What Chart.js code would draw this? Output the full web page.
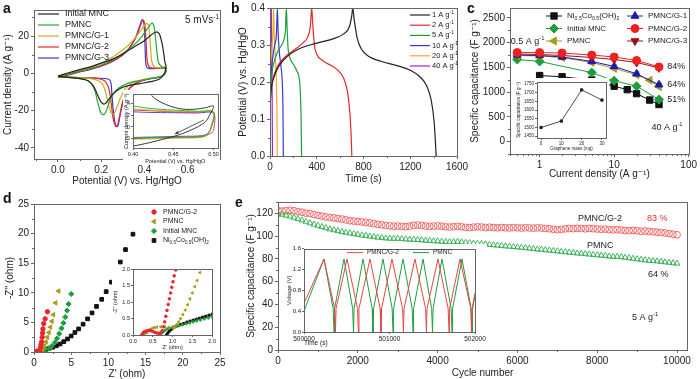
<!DOCTYPE html>
<html><head><meta charset="utf-8">
<script src="https://cdn.jsdelivr.net/npm/chart.js@4.4.1/dist/chart.umd.min.js"></script>
<style>
html,body{margin:0;padding:0;background:#fff;overflow:hidden}
#fig{position:relative;width:700px;height:379px}
#fig canvas{position:absolute}
.lbl{position:absolute;z-index:5;font:bold 14px 'Liberation Sans',Arial,sans-serif;line-height:14px;color:#111}
</style></head><body>
<div id="fig">
<div class="lbl" style="left:3px;top:1px">a</div>
<div class="lbl" style="left:231px;top:1px">b</div>
<div class="lbl" style="left:467px;top:1px">c</div>
<div class="lbl" style="left:3px;top:191px">d</div>
<div class="lbl" style="left:235px;top:195px">e</div>
</div>
<script>
// ---------- data: (a) CV loops, [potential V, current A/g] ----------
const aNames = ['Initial MNC', 'PMNC', 'PMNC/G-1', 'PMNC/G-2', 'PMNC/G-3'];
const aTicksX = [0, 0.2, 0.4, 0.6];
const aTicksY = [-40, -20, 0, 20];
const cvInitial = [[0,-1.5],[0.05,0.3],[0.1,2],[0.15,3.5],[0.2,5.5],[0.25,7.5],[0.3,10.5],[0.35,14],[0.4,17.5],[0.43,20.5],[0.455,22.2],[0.47,21],[0.485,14],[0.495,6],[0.5,3.5],[0.49,-0.5],[0.47,-3],[0.43,-4.5],[0.38,-5.5],[0.33,-6.5],[0.29,-8],[0.26,-10.5],[0.235,-14],[0.215,-16.5],[0.2,-15.5],[0.185,-12],[0.165,-7],[0.14,-4],[0.1,-2.8],[0.05,-2.2],[0,-1.5]];
const cvPMNC = [[0,-1.8],[0.05,-0.2],[0.1,1.2],[0.15,2.6],[0.2,4.5],[0.25,7],[0.3,10.5],[0.35,15],[0.39,20],[0.42,25],[0.435,27],[0.445,25],[0.455,15],[0.465,6],[0.48,3.5],[0.5,3],[0.49,-0.8],[0.46,-2.2],[0.42,-3],[0.37,-4],[0.32,-5.5],[0.28,-8],[0.25,-12],[0.23,-18],[0.215,-22],[0.2,-21.5],[0.185,-16],[0.17,-9],[0.15,-5],[0.12,-3.2],[0.06,-2.2],[0,-1.8]];
const cvG1 = [[0,-1.8],[0.05,-0.3],[0.1,1.5],[0.15,3.2],[0.2,5.5],[0.25,8.5],[0.3,12.5],[0.35,18],[0.39,24],[0.41,26.8],[0.42,25],[0.428,15],[0.435,6],[0.45,3.3],[0.5,2.8],[0.49,-0.8],[0.46,-2],[0.42,-2.8],[0.38,-3.8],[0.34,-5.5],[0.31,-8.5],[0.29,-13],[0.27,-19],[0.258,-21.8],[0.245,-21],[0.23,-15],[0.215,-8],[0.195,-4.5],[0.15,-2.8],[0.07,-2.2],[0,-1.8]];
const cvG2 = [[0,-2],[0.05,-0.6],[0.1,0.9],[0.15,2.3],[0.2,4],[0.25,6.5],[0.3,10],[0.33,13.5],[0.36,19],[0.38,25],[0.393,28.6],[0.402,26],[0.408,16],[0.414,6],[0.425,3.2],[0.46,2.8],[0.5,2.6],[0.49,-1],[0.46,-2.2],[0.42,-3],[0.38,-4.2],[0.35,-6],[0.32,-9.5],[0.3,-15],[0.285,-23],[0.275,-27.8],[0.265,-28],[0.255,-24],[0.245,-15],[0.235,-8],[0.215,-4],[0.17,-2.6],[0.08,-2.2],[0,-2]];
const cvG3 = [[0,-2.2],[0.05,-0.8],[0.1,0.7],[0.15,2.1],[0.2,3.8],[0.25,6.2],[0.3,9.8],[0.33,13.5],[0.36,19.5],[0.38,26],[0.39,28.9],[0.398,26.5],[0.403,15],[0.407,5],[0.415,2.8],[0.46,2.6],[0.5,2.5],[0.49,-1],[0.46,-2.3],[0.42,-3.1],[0.38,-4.3],[0.35,-6.2],[0.32,-10],[0.3,-16],[0.285,-24],[0.277,-28.3],[0.268,-28.5],[0.258,-22],[0.25,-12],[0.245,-5],[0.235,-3.2],[0.18,-2.6],[0.08,-2.3],[0,-2.2]];
// inset of (a): 0.40-0.50 V
const iaTicksX = [0.40, 0.45, 0.50];
const iaTicksY = [-2, 0, 2, 4];
const iaInitial = [[0.423,5.4],[0.43,4.6],[0.44,3.9],[0.45,3.4],[0.46,3.1],[0.47,3.0],[0.48,3.1],[0.49,3.3],[0.5,3.6],[0.495,2],[0.49,0.9],[0.48,0],[0.46,-1.2],[0.44,-2.0],[0.42,-2.7],[0.4,-3.3]];
const iaPMNC = [[0.4,3.6],[0.42,3.2],[0.45,2.9],[0.48,2.7],[0.5,2.6],[0.498,0.5],[0.493,-1.1],[0.485,-1.6],[0.46,-1.7],[0.43,-1.8],[0.4,-1.9]];
const iaG1 = [[0.4,3.1],[0.42,2.9],[0.45,2.7],[0.48,2.6],[0.5,2.5],[0.498,0.3],[0.493,-1.3],[0.485,-1.8],[0.46,-1.9],[0.43,-2],[0.4,-2.1]];
const iaG2 = [[0.4,2.9],[0.42,2.8],[0.45,2.6],[0.48,2.5],[0.5,2.5],[0.5,-0.6],[0.495,-1.2],[0.485,-1.7],[0.46,-1.8],[0.43,-1.9],[0.4,-2]];
const iaG3 = [[0.4,2.6],[0.42,2.5],[0.45,2.45],[0.48,2.4],[0.5,2.4],[0.498,0.2],[0.493,-1.1],[0.485,-1.5],[0.46,-1.6],[0.43,-1.7],[0.4,-1.8]];

// ---------- (b) charge-discharge, [time s, potential V] ----------
const bNames = ['1 A g^{-1}', '2 A g^{-1}', '5 A g^{-1}', '10 A g^{-1}', '20 A g^{-1}', '40 A g^{-1}'];
const bTicksX = [0, 400, 800, 1200, 1600];
const bTicksY = [0, 0.1, 0.2, 0.3, 0.4];
const gcd1 = [[0,0.13],[10,0.18],[30,0.21],[80,0.245],[150,0.27],[250,0.29],[400,0.305],[550,0.318],[630,0.33],[680,0.35],[700,0.38],[708,0.4],[720,0.37],[745,0.32],[780,0.29],[850,0.268],[950,0.256],[1100,0.243],[1200,0.232],[1280,0.215],[1340,0.19],[1380,0.15],[1405,0.09],[1415,0.04],[1422,0]];
const gcd2 = [[0,0.15],[20,0.2],[60,0.24],[120,0.265],[200,0.285],[280,0.305],[320,0.32],[345,0.35],[357,0.4],[365,0.36],[380,0.3],[400,0.275],[450,0.258],[520,0.245],[580,0.232],[630,0.21],[665,0.17],[685,0.11],[695,0.05],[700,0]];
const gcd5 = [[0,0.16],[15,0.22],[40,0.26],[70,0.285],[100,0.3],[120,0.315],[132,0.34],[140,0.4],[146,0.35],[155,0.29],[170,0.265],[200,0.248],[230,0.23],[250,0.21],[260,0.17],[266,0.1],[270,0]];
const gcd10 = [[0,0.15],[10,0.22],[25,0.27],[40,0.3],[55,0.33],[63,0.4],[70,0.33],[80,0.28],[95,0.24],[105,0.2],[111,0.12],[114,0]];
const gcd20 = [[0,0.17],[8,0.25],[18,0.3],[26,0.34],[31,0.4],[36,0.33],[45,0.27],[55,0.2],[60,0.1],[62,0]];
const gcd40 = [[1,0.1],[4,0.2],[8,0.3],[11,0.4],[14,0.3],[18,0.18],[21,0]];

// ---------- (c) rate capability ----------
const cNames = ['Ni_{0.5}Co_{0.5}(OH)_{2}', 'Initial MNC', 'PMNC', 'PMNC/G-1', 'PMNC/G-2', 'PMNC/G-3'];
const cTicksX = [1, 10, 100];
const cTicksY = [0, 500, 1000, 1500, 2000, 2500];
const densNi = [1, 2, 5, 10, 15, 20, 30, 40];
const capNi = [1335, 1310, 1245, 1120, 1050, 970, 840, 750];
const densInit = [0.5, 1, 5, 10, 20, 40];
const capInit = [1660, 1620, 1395, 1230, 1120, 850];
const densPMNC = [0.5, 1, 2, 5, 10, 20, 30, 40];
const capPMNC = [1740, 1730, 1700, 1600, 1480, 1350, 1240, 1110];
const densG = [0.5, 1, 2, 5, 10, 20, 40];
const capG1 = [1750, 1740, 1710, 1620, 1520, 1370, 1150];
const capG2 = [1800, 1800, 1790, 1750, 1710, 1640, 1510];
const capG3 = [1770, 1760, 1740, 1700, 1660, 1600, 1490];
// inset of (c)
const icTicksX = [0, 10, 20, 30];
const icTicksY = [1450, 1500, 1550, 1600, 1650, 1700, 1750];
const grapheneMass = [0, 10, 20, 30];
const capVsMass = [1500, 1537, 1715, 1657];

// ---------- (d) Nyquist, [Z' ohm, -Z'' ohm] ----------
const dNames = ['PMNC/G-2', 'PMNC', 'Initial MNC', 'Ni_{0.5}Co_{0.5}(OH)_{2}'];
const dTicks = [0, 5, 10, 15, 20, 25];
const nyG2 = [[0.22,0],[0.4,0.14],[0.6,0.06],[0.75,0.15],[0.85,0.7],[0.95,1.3],[1.02,1.7],[1.1,2.5],[1.15,3.2],[1.2,3.9],[1.3,4.8],[1.5,5.6],[1.8,6.8]];
const nyPMNC = [[0.3,0],[0.7,0.25],[1.0,0.22],[1.2,0.5],[1.4,1.0],[1.6,1.7],[1.8,2.5],[2.0,3.3],[2.2,4.2],[2.4,5.2],[2.6,6.3],[2.9,8.3],[3.3,10.3]];
const nyInit = [[0.7,0],[1.0,0.24],[1.5,0.4],[2.0,0.6],[2.4,1.0],[2.8,1.6],[3.1,2.3],[3.4,3.1],[3.7,4.0],[3.95,4.9],[4.2,5.9],[4.45,7.0],[4.65,8.1],[5.0,9.8]];
const nyNi = [[0.85,0],[1.2,0.3],[1.6,0.45],[2.0,0.6],[2.5,0.8],[3.0,1.05],[3.5,1.35],[4.0,1.75],[4.5,2.2],[5.0,2.7],[5.5,3.3],[6.0,3.9],[6.6,4.7],[7.2,5.6],[7.8,6.6],[8.4,7.7],[9.1,8.9],[9.7,10.2],[10.4,11.8],[11.0,13.4],[11.6,15.2],[12.3,17.3],[13.3,19.9]];
// inset of (d)
const idTicks = [0, 0.5, 1, 1.5, 2];
const idG2 = [[0.22,0],[0.25,0.05],[0.28,0.09],[0.32,0.11],[0.36,0.13],[0.4,0.14],[0.45,0.13],[0.5,0.11],[0.55,0.08],[0.6,0.06],[0.65,0.05],[0.7,0.07],[0.74,0.13],[0.77,0.25],[0.8,0.4],[0.83,0.57],[0.86,0.75],[0.89,0.93],[0.92,1.1],[0.95,1.28],[0.98,1.45],[1.01,1.62],[1.04,1.8],[1.08,1.98]];
const idPMNC = [[0.3,0],[0.35,0.07],[0.4,0.13],[0.45,0.18],[0.5,0.21],[0.55,0.23],[0.6,0.24],[0.7,0.25],[0.8,0.25],[0.9,0.23],[1.0,0.22],[1.05,0.25],[1.1,0.32],[1.15,0.4],[1.2,0.5],[1.26,0.62],[1.32,0.76],[1.38,0.92],[1.44,1.1],[1.5,1.28],[1.56,1.47],[1.62,1.66],[1.69,1.9]];
const idInit = [[0.68,0],[0.72,0.05],[0.76,0.1],[0.8,0.14],[0.86,0.18],[0.92,0.21],[1.0,0.24],[1.08,0.26],[1.16,0.28],[1.25,0.31],[1.34,0.34],[1.43,0.37],[1.52,0.4],[1.61,0.43],[1.7,0.46],[1.8,0.49],[1.9,0.52],[2.0,0.55]];
const idNi = [[0.85,0],[0.88,0.06],[0.92,0.12],[0.96,0.17],[1.0,0.21],[1.06,0.25],[1.12,0.28],[1.2,0.32],[1.28,0.35],[1.36,0.39],[1.44,0.42],[1.52,0.45],[1.6,0.48],[1.68,0.51],[1.76,0.54],[1.84,0.57],[1.92,0.6],[2.0,0.63]];

// ---------- (e) cycling ----------
const eTicksX = [0, 2000, 4000, 6000, 8000, 10000];
const eTicksY = [0, 20, 40, 60, 80, 100, 120];
const cycles = [0,100,200,300,400,500,600,700,800,900,1000,1100,1200,1300,1400,1500,1600,1700,1800,1900,2000,2100,2200,2300,2400,2500,2600,2700,2800,2900,3000,3100,3200,3300,3400,3500,3600,3700,3800,3900,4000,4100,4200,4300,4400,4500,4600,4700,4800,4900,5000,5100,5200,5300,5400,5500,5600,5700,5800,5900,6000,6100,6200,6300,6400,6500,6600,6700,6800,6900,7000,7100,7200,7300,7400,7500,7600,7700,7800,7900,8000,8100,8200,8300,8400,8500,8600,8700,8800,8900,9000,9100,9200,9300,9400,9500,9600,9700,9800,9900,10000];
const cycG2 = [122.5,122.0,122.4,122.8,122.3,121.6,121.0,120.2,119.8,119.0,118.2,117.6,116.9,116.4,116.0,115.5,115.0,114.3,113.6,113.2,112.8,112.5,112.0,111.6,111.0,110.4,109.9,109.4,109.0,108.7,108.9,108.6,108.3,108.8,109.5,109.8,109.4,108.9,108.6,108.8,109.0,108.7,108.2,108.0,108.3,108.6,108.2,107.7,107.5,107.9,108.2,108.0,107.6,107.8,107.5,107.3,107.6,107.4,107.2,107.5,107.3,107.1,107.4,107.2,107.0,107.3,107.1,106.8,106.5,106.0,105.6,105.9,106.4,106.8,106.6,106.9,106.7,106.5,106.8,106.6,106.3,106.0,106.2,105.8,105.5,105.7,105.4,105.0,104.8,105.1,104.7,104.3,104.5,104.1,103.8,103.5,103.2,102.8,102.3,101.7,101.2];
const cycPMNC = [119.5,119.0,118.2,117.4,116.3,115.2,114.0,112.8,111.5,110.3,109.3,108.2,107.2,106.2,105.4,104.6,103.8,103.2,102.6,102.0,101.4,100.8,100.3,99.8,99.3,98.9,98.5,98.2,97.9,97.8,97.9,97.6,97.3,97.1,96.9,96.8,96.5,96.2,96.0,95.7,95.5,95.3,95.0,94.8,94.9,95.2,94.7,94.3,94.0,93.7,93.5,93.2,92.8,92.5,92.2,91.9,91.5,91.2,90.9,90.6,90.3,90.0,89.6,89.3,88.9,88.5,88.2,87.8,87.5,87.1,86.8,86.4,86.1,85.7,85.4,85.0,84.7,84.4,84.0,83.7,83.4,83.0,82.7,82.3,81.9,82.1,81.7,81.2,80.8,80.3,79.8,79.4,78.9,78.5,78.3,78.0,77.6,77.2,76.8,76.4,76.0];
// inset of (e): voltage vs time, peaks at 1.4 V and cusps at 0 V
const ieTicksX = [500000, 501000, 502000];
const ieTicksY = [0, 0.4, 0.8, 1.2, 1.6];
const ieG2 = [[500000,0.55],[500234,1.4],[500358,0.45],[500368,0],[500375,0.45],[500503,1.4],[500626,0.45],[500636,0],[500643,0.45],[500772,1.4],[500890,0.45],[500900,0],[500907,0.45],[501029,1.4],[501153,0.45],[501163,0],[501170,0.45],[501298,1.4],[501422,0.45],[501432,0],[501439,0.45],[501567,1.4],[501686,0.45],[501696,0],[501703,0.45],[501825,1.4],[501950,0.45],[501960,0],[501967,0.45],[502000,0.75]];
const iePMNC = [[500000,0.4],[500234,1.4],[500341,0.45],[500351,0],[500358,0.45],[500468,1.4],[500569,0.45],[500579,0],[500586,0.45],[500690,1.4],[500797,0.45],[500807,0],[500814,0.45],[500924,1.4],[501031,0.45],[501041,0],[501048,0.45],[501158,1.4],[501265,0.45],[501275,0],[501282,0.45],[501392,1.4],[501493,0.45],[501503,0],[501510,0.45],[501614,1.4],[501721,0.45],[501731,0],[501738,0.45],[501848,1.4],[501955,0.45],[501965,0],[501972,0.45],[502000,0.7]];

// ---------- helpers ----------
const FAM = "'Liberation Sans', Arial, 'DejaVu Sans', sans-serif";
const AX = '#666';
Chart.defaults.font.family = FAM;
Chart.defaults.color = '#222';
const fig = document.getElementById('fig');
const pts = arr => arr.map(([x, y]) => ({x, y}));
const zip = (xs, ys) => xs.map((x, i) => ({x, y: ys[i]}));

function rich(ctx, s, x, y, size, o = {}) {
  const parts = [], re = /([_^])\{([^}]*)\}/g;
  let last = 0, m;
  while ((m = re.exec(s))) {
    if (m.index > last) parts.push([s.slice(last, m.index), 0]);
    parts.push([m[2], m[1] === '_' ? 1 : -1]);
    last = re.lastIndex;
  }
  if (last < s.length) parts.push([s.slice(last), 0]);
  const fnt = k => (k ? size * 0.65 : size) + 'px ' + FAM;
  let w = 0;
  for (const [t, k] of parts) { ctx.font = fnt(k); w += ctx.measureText(t).width; }
  let cx = o.align === 'center' ? x - w / 2 : o.align === 'right' ? x - w : x;
  ctx.fillStyle = o.color || '#222';
  ctx.textAlign = 'left';
  ctx.textBaseline = 'middle';
  for (const [t, k] of parts) {
    ctx.font = fnt(k);
    ctx.fillText(t, cx, y + k * size * 0.3);
    cx += ctx.measureText(t).width;
  }
}

function mark(ctx, d, x, y) {
  const r = d.pointRadius;
  if (!r) return;
  ctx.save();
  ctx.fillStyle = d.pointBackgroundColor || d.borderColor;
  ctx.strokeStyle = d.pointBorderColor || d.borderColor;
  ctx.lineWidth = d.pointBorderWidth || 1;
  Chart.helpers.drawPoint(ctx, {pointStyle: d.pointStyle || 'circle', radius: r, rotation: d.pointRotation || 0, borderWidth: ctx.lineWidth}, x, y);
  ctx.restore();
}

function minorValues(sc, n) {
  const out = [];
  if (sc.type === 'logarithmic') {
    for (let e = Math.floor(Math.log10(sc.min)); e < Math.ceil(Math.log10(sc.max)); e++)
      for (let k = 2; k < 10; k++) {
        const v = k * Math.pow(10, e);
        if (v >= sc.min && v <= sc.max) out.push(v);
      }
    return out;
  }
  const t = sc.ticks.map(k => k.value);
  if (t.length < 2) return out;
  const st = t[1] - t[0], d = st / n;
  for (let i = -n; i <= t.length * n; i++) {
    if (i % n === 0) continue;
    const v = t[0] + i * d;
    if (v >= sc.min && v <= sc.max) out.push(v);
  }
  return out;
}

const deco = {
  id: 'deco',
  afterDraw(chart, args, o) {
    const ctx = chart.ctx, a = chart.chartArea, sx = chart.scales.x, sy = chart.scales.y;
    ctx.save();
    ctx.strokeStyle = AX;
    ctx.lineWidth = 1;
    const ml = o.minorLen || 2;
    ctx.beginPath();
    if (o.minorX) for (const v of minorValues(sx, o.minorX)) {
      const p = Math.round(sx.getPixelForValue(v)) + 0.5;
      ctx.moveTo(p, a.bottom); ctx.lineTo(p, a.bottom + ml);
    }
    if (o.minorY) for (const v of minorValues(sy, o.minorY)) {
      const p = Math.round(sy.getPixelForValue(v)) + 0.5;
      ctx.moveTo(a.left, p); ctx.lineTo(a.left - ml, p);
    }
    ctx.stroke();
    const L = Math.round(a.left) + 0.5, T = Math.round(a.top) + 0.5, R = Math.round(a.right) + 0.5, B = Math.round(a.bottom) + 0.5;
    ctx.strokeRect(L, T, R - L, B - T);
    if (o.legend) {
      const g = o.legend;
      chart.data.datasets.filter(d => d.label).forEach((d, i) => {
        const col = Math.floor(i / g.perCol), row = i % g.perCol;
        const x0 = a.left + g.x + col * g.colW, y0 = a.top + g.y + row * g.rowH;
        if (g.line) {
          ctx.strokeStyle = d.borderColor;
          ctx.lineWidth = d.borderWidth || 1;
          ctx.beginPath(); ctx.moveTo(x0 + g.line[0], y0); ctx.lineTo(x0 + g.line[1], y0); ctx.stroke();
        }
        if (g.mark !== undefined) mark(ctx, d, x0 + g.mark, y0);
        rich(ctx, d.label, x0 + g.tx, y0, g.size);
      });
    }
    for (const n of o.notes || []) {
      rich(ctx, n.t, sx.getPixelForValue(n.x), sy.getPixelForValue(n.y), n.size, n);
    }
    for (const ar of o.arrows || []) {
      const x0 = sx.getPixelForValue(ar[0]), y0 = sy.getPixelForValue(ar[1]);
      const x1 = sx.getPixelForValue(ar[2]), y1 = sy.getPixelForValue(ar[3]);
      const ang = Math.atan2(y1 - y0, x1 - x0), h = 4;
      ctx.strokeStyle = '#333'; ctx.fillStyle = '#333'; ctx.lineWidth = 0.8;
      ctx.beginPath(); ctx.moveTo(x0, y0); ctx.lineTo(x1, y1); ctx.stroke();
      ctx.beginPath(); ctx.moveTo(x1, y1);
      ctx.lineTo(x1 - h * Math.cos(ang - 0.4), y1 - h * Math.sin(ang - 0.4));
      ctx.lineTo(x1 - h * Math.cos(ang + 0.4), y1 - h * Math.sin(ang + 0.4));
      ctx.closePath(); ctx.fill();
    }
    ctx.restore();
  }
};

// tick values come from the named arrays above
function axis(min, max, tickVals, fmt, title, o = {}) {
  return {
    type: o.type || 'linear', min, max,
    afterBuildTicks: s => { s.ticks = tickVals.map(v => ({value: v})); },
    ticks: {autoSkip: false, maxRotation: 0, padding: o.pad ?? 2,
            font: {size: o.fs || 10}, color: '#222', callback: fmt},
    grid: {drawOnChartArea: false, tickLength: o.tl || 3, color: AX, tickColor: AX},
    border: {display: false},
    title: {display: !!title, text: title, padding: 0, font: {size: o.ts || o.fs || 10}, color: '#222', align: o.align || 'center'}
  };
}

function mk(box, datasets, scales, deco_opts) {
  const cv = document.createElement('canvas');
  const L = box.l - box.yw, T = box.t - box.pt;
  const W = box.r - box.l + box.yw + box.pr, H = box.b - box.t + box.pt + box.xh;
  cv.width = W; cv.height = H;
  Object.assign(cv.style, {left: L + 'px', top: T + 'px', width: W + 'px', height: H + 'px'});
  if (box.bg) cv.style.background = box.bg;
  fig.appendChild(cv);
  scales.x.afterFit = s => { s.height = box.xh; };
  scales.y.afterFit = s => { s.width = box.yw; };
  return new Chart(cv, {
    type: 'scatter',
    data: {datasets},
    options: {
      responsive: false, animation: false, devicePixelRatio: 1,
      layout: {padding: {left: 0, top: box.pt, right: box.pr, bottom: 0}, autoPadding: false},
      scales,
      plugins: {legend: {display: false}, tooltip: {enabled: false}, deco: deco_opts}
    },
    plugins: [deco]
  });
}

const line = (label, data, color, o = {}) => Object.assign({label, data, borderColor: color, backgroundColor: color,
  showLine: true, pointRadius: 0, borderWidth: 1.1, tension: 0}, o);
const dots = (label, data, color, style, r, o = {}) => Object.assign({label, data, borderColor: color,
  backgroundColor: color, pointBackgroundColor: color, pointBorderColor: color, pointStyle: style, pointRadius: r,
  pointBorderWidth: 1, showLine: false, borderWidth: 1}, o);

const f1 = v => v.toFixed(1), f0 = v => String(Math.round(v)), f2 = v => v.toFixed(2);

// ---------- (a) ----------
const cvColors = ['#222222', '#22a833', '#c4b020', '#e8262b', '#3a3ac8'];
mk({l: 34, t: 8, r: 220, b: 159, yw: 32, xh: 28, pt: 6, pr: 6},
  [cvInitial, cvPMNC, cvG1, cvG2, cvG3].map((d, i) => line(aNames[i], pts(d), cvColors[i], {tension: 0.35, borderWidth: 1.2})),
  {x: axis(-0.111, 0.75, aTicksX, f1, 'Potential (V) vs. Hg/HgO'),
   y: axis(-46, 34, aTicksY, f0, 'Current density (A g\u207B\u00B9)')},
  {minorX: 2, minorY: 2,
   legend: {x: 4, y: 4, rowH: 11, perCol: 5, colW: 0, line: [0, 21], tx: 27, size: 9},
   notes: [{t: '5 mVs^{-1}', x: 0.588, y: 28.7, size: 10}]});

mk({l: 133, t: 92, r: 218, b: 148, yw: 10, xh: 17, pt: 2, pr: 2, bg: '#fff'},
  [iaInitial, iaPMNC, iaG1, iaG2, iaG3].map((d, i) => line('', pts(d), cvColors[i], {tension: 0.3, borderWidth: 0.9})),
  {x: axis(0.4, 0.505, iaTicksX, f2, 'Potential (V) vs. Hg/HgO', {fs: 5.5, tl: 2, pad: 1}),
   y: axis(-3.6, 5.6, iaTicksY, f0, 'Current density (A g\u207B\u00B9)', {fs: 5.5, tl: 2, pad: 1})},
  {arrows: [[0.488, 1.2, 0.452, -1.2]]});

// ---------- (b) ----------
const gcdColors = ['#222222', '#e8262b', '#1e9e3a', '#3a3ad0', '#f5a623', '#a020e0'];
mk({l: 270, t: 5, r: 457, b: 156, yw: 33, xh: 29, pt: 5, pr: 14},
  [gcd1, gcd2, gcd5, gcd10, gcd20, gcd40].map((d, i) => line(bNames[i], pts(d), gcdColors[i], {cubicInterpolationMode: 'monotone', borderWidth: 1.2})),
  {x: axis(0, 1600, bTicksX, f0, 'Time (s)'),
   y: axis(0, 0.4, bTicksY, f1, 'Potential (V) vs. Hg/HgO')},
  {minorX: 2, minorY: 2,
   legend: {x: 140, y: 7, rowH: 10.2, perCol: 6, colW: 0, line: [0, 20], tx: 22, size: 7.5}});

// ---------- (c) ----------
mk({l: 510, t: 3, r: 690, b: 154, yw: 41, xh: 26, pt: 3, pr: 9},
  [dots(cNames[0], zip(densNi, capNi), '#111111', 'rect', 4.5, {showLine: true, order: 5}),
   dots(cNames[1], zip(densInit, capInit), '#1e9e3a', 'rectRot', 4.5, {showLine: true, order: 4}),
   dots(cNames[2], zip(densPMNC, capPMNC), '#a89a1e', 'triangle', 4.5, {showLine: true, pointRotation: -90, order: 3}),
   dots(cNames[3], zip(densG, capG1), '#1a1ab0', 'triangle', 4.5, {showLine: true, order: 2}),
   dots(cNames[4], zip(densG, capG2), '#ee2020', 'circle', 4, {showLine: true, order: 0}),
   dots(cNames[5], zip(densG, capG3), '#9a1010', 'triangle', 4.5, {showLine: true, pointRotation: 180, order: 1})],
  {x: axis(0.4, 100, cTicksX, v => String(v), 'Current density (A g\u207B\u00B9)', {type: 'logarithmic'}),
   y: axis(-250, 2700, cTicksY, f0, 'Specific capacitance (F g\u207B\u00B9)')},
  {minorX: 1, minorY: 2,
   legend: {x: 36, y: 8, rowH: 12.5, perCol: 3, colW: 81, line: [0, 16], mark: 8, tx: 21, size: 8},
   notes: [{t: '0.5 A g^{-1}', x: 0.41, y: 2030, size: 9},
           {t: '84%', x: 51.5, y: 1523, size: 9}, {t: '64%', x: 51.5, y: 1152, size: 9},
           {t: '51%', x: 51.5, y: 859, size: 9}, {t: '40 A g^{-1}', x: 31.6, y: 293, size: 9}]});

mk({l: 537, t: 80, r: 606, b: 138, yw: 21, xh: 13, pt: 2, pr: 3, bg: '#fff'},
  [dots('', zip(grapheneMass, capVsMass), '#222222', 'rect', 1.6, {showLine: true, borderWidth: 0.8})],
  {x: axis(-2, 32, icTicksX, f0, 'Graphene mass (mg)', {fs: 4.5, tl: 2, pad: 1}),
   y: axis(1440, 1762, icTicksY, f0, 'Specific capacitance (F g\u207B\u00B9)', {fs: 4.5, tl: 2, pad: 1})},
  {});

// ---------- (d) ----------
mk({l: 34, t: 202, r: 220, b: 352, yw: 30, xh: 28, pt: 6, pr: 8},
  [dots(dNames[0], pts(nyG2), '#e8262b', 'circle', 2.2),
   dots(dNames[1], pts(nyPMNC), '#a89a1e', 'triangle', 2.6, {pointRotation: -90}),
   dots(dNames[2], pts(nyInit), '#1e9e3a', 'rectRot', 2.6),
   dots(dNames[3], pts(nyNi), '#111111', 'rect', 2.6)],
  {x: axis(0, 25, dTicks, f0, "Z' (ohm)"), y: axis(0, 25, dTicks, f0, "-Z'' (ohm)")},
  {minorX: 2, minorY: 2,
   legend: {x: 120, y: 8, rowH: 9.5, perCol: 4, colW: 0, mark: 0, tx: 9, size: 7}});

mk({l: 133, t: 268, r: 213, b: 335, yw: 21, xh: 16, pt: 3, pr: 4, bg: '#fff'},
  [dots('', pts(idG2), '#e8262b', 'circle', 1.3),
   dots('', pts(idPMNC), '#a89a1e', 'triangle', 1.5, {pointRotation: -90}),
   dots('', pts(idInit), '#1e9e3a', 'rectRot', 1.5),
   dots('', pts(idNi), '#111111', 'rect', 1.5)],
  {x: axis(0, 2, idTicks, f1, "Z' (ohm)", {fs: 5.5, tl: 2, pad: 1}),
   y: axis(0, 2, idTicks, f1, "-Z'' (ohm)", {fs: 5.5, tl: 2, pad: 1})},
  {});

// ---------- (e) ----------
mk({l: 278, t: 200, r: 687, b: 350, yw: 33, xh: 29, pt: 6, pr: 10},
  [dots('', zip(cycles, cycPMNC), '#2fae4e', 'triangle', 3.4, {pointBackgroundColor: 'rgba(0,0,0,0)', pointBorderWidth: 0.9}),
   dots('', zip(cycles, cycG2), '#ef5a5a', 'circle', 3.4, {pointBackgroundColor: 'rgba(0,0,0,0)', pointBorderWidth: 0.9})],
  {x: axis(0, 10250, eTicksX, f0, 'Cycle number'),
   y: axis(0, 130, eTicksY, f0, 'Specific capacitance (F g\u207B\u00B9)')},
  {minorX: 2, minorY: 2,
   notes: [{t: 'PMNC/G-2', x: 7518, y: 115.3, size: 9}, {t: '83 %', x: 9247, y: 115.3, size: 9, color: '#e03030'},
           {t: 'PMNC', x: 7744, y: 91.9, size: 9}, {t: '64 %', x: 9273, y: 65.9, size: 9},
           {t: '5 A g^{-1}', x: 8872, y: 28.6, size: 9}]});

mk({l: 304, t: 247, r: 475, b: 332, yw: 18, xh: 15, pt: 3, pr: 12, bg: '#fff'},
  [line('PMNC/G-2', pts(ieG2), '#e84545', {borderWidth: 1}),
   line('PMNC', pts(iePMNC), '#1e9e40', {borderWidth: 1})],
  {x: axis(500000, 502000, ieTicksX, f0, 'Time (s)', {fs: 6.5, tl: 2, pad: 1, align: 'start'}),
   y: axis(0, 1.6, ieTicksY, f1, 'Voltage (V)', {fs: 6, tl: 2, pad: 1})},
  {legend: {x: 43, y: 4, rowH: 0, perCol: 1, colW: 66, line: [0, 16], tx: 20, size: 6.5}});
</script>
</body></html>
